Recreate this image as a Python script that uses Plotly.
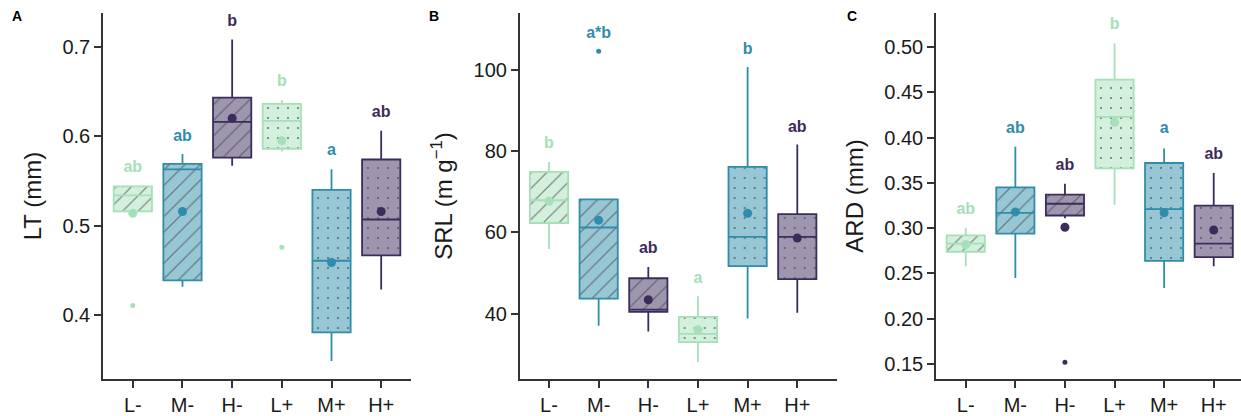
import plotly.graph_objects as go
from plotly.subplots import make_subplots

cats = ["L-", "M-", "H-", "L+", "M+", "H+"]
colors = ["#a5e0b8", "#2f8cab", "#3c2c5c", "#a5e0b8", "#2f8cab", "#3c2c5c"]
fills = ["#d3f0dc", "#97c6d5", "#9e96ae", "#d3f0dc", "#97c6d5", "#9e96ae"]
patterns = ["/", "/", "/", ".", ".", "."]
pattern_sizes = [11, 11, 11, 10, 10, 10]
pattern_solidity = [0.1, 0.1, 0.1, 0.035, 0.035, 0.035]

# Panel A: LT (mm)
lt_q1 = [0.516, 0.439, 0.576, 0.586, 0.381, 0.467]
lt_median = [0.534, 0.563, 0.616, 0.617, 0.461, 0.507]
lt_q3 = [0.544, 0.569, 0.643, 0.636, 0.540, 0.574]
lt_lower = [0.516, 0.432, 0.567, 0.583, 0.349, 0.429]
lt_upper = [0.544, 0.580, 0.708, 0.640, 0.563, 0.606]
lt_mean = [0.514, 0.516, 0.620, 0.595, 0.459, 0.516]
lt_out_x = ["L-", "L+"]
lt_out_y = [0.411, 0.476]
lt_letters = ["ab", "ab", "b", "b", "a", "ab"]
lt_letter_y = [0.564, 0.599, 0.728, 0.660, 0.583, 0.626]

# Panel B: SRL (m g-1)
srl_q1 = [62.3, 43.7, 40.4, 33.0, 51.7, 48.5]
srl_median = [67.9, 61.2, 41.0, 35.0, 58.9, 58.9]
srl_q3 = [74.9, 68.1, 48.7, 39.2, 76.1, 64.5]
srl_lower = [55.9, 37.0, 35.6, 28.1, 38.8, 40.2]
srl_upper = [77.3, 68.1, 51.5, 44.3, 100.7, 81.6]
srl_mean = [67.7, 63.0, 43.4, 36.0, 64.7, 58.6]
srl_out_x = ["M-"]
srl_out_y = [104.6]
srl_letters = ["b", "a*b", "ab", "a", "b", "ab"]
srl_letter_y = [81.7, 108.9, 55.8, 48.5, 105.0, 85.8]

# Panel C: ARD (mm)
ard_q1 = [0.274, 0.294, 0.314, 0.366, 0.264, 0.268]
ard_median = [0.283, 0.317, 0.327, 0.423, 0.321, 0.283]
ard_q3 = [0.292, 0.345, 0.337, 0.464, 0.372, 0.325]
ard_lower = [0.258, 0.245, 0.311, 0.326, 0.234, 0.258]
ard_upper = [0.300, 0.390, 0.349, 0.504, 0.388, 0.361]
ard_mean = [0.282, 0.318, 0.301, 0.417, 0.317, 0.298]
ard_out_x = ["H-"]
ard_out_y = [0.152]
ard_letters = ["ab", "ab", "ab", "b", "a", "ab"]
ard_letter_y = [0.320, 0.409, 0.369, 0.524, 0.409, 0.381]

panels = [
    dict(q1=lt_q1, med=lt_median, q3=lt_q3, lo=lt_lower, hi=lt_upper, mean=lt_mean,
         ox=lt_out_x, oy=lt_out_y, let=lt_letters, ly=lt_letter_y,
         title="LT (mm)", yrange=[0.329, 0.7375], xrange=[-0.6, 5.6],
         tickvals=[0.4, 0.5, 0.6, 0.7], ticktext=["0.4", "0.5", "0.6", "0.7"]),
    dict(q1=srl_q1, med=srl_median, q3=srl_q3, lo=srl_lower, hi=srl_upper, mean=srl_mean,
         ox=srl_out_x, oy=srl_out_y, let=srl_letters, ly=srl_letter_y,
         title="SRL (m g<sup>\u22121</sup>)", yrange=[23.9, 114.0], xrange=[-0.59, 5.8],
         tickvals=[40, 60, 80, 100], ticktext=["40", "60", "80", "100"]),
    dict(q1=ard_q1, med=ard_median, q3=ard_q3, lo=ard_lower, hi=ard_upper, mean=ard_mean,
         ox=ard_out_x, oy=ard_out_y, let=ard_letters, ly=ard_letter_y,
         title="ARD (mm)", yrange=[0.1335, 0.5376], xrange=[-0.6, 5.55],
         tickvals=[0.15, 0.20, 0.25, 0.30, 0.35, 0.40, 0.45, 0.50],
         ticktext=["0.15", "0.20", "0.25", "0.30", "0.35", "0.40", "0.45", "0.50"]),
]

fig = make_subplots(rows=1, cols=3)
W = 1241
domains = [[103 / W, 411 / W], [519.7 / W, 837 / W], [936 / W, 1.0]]

for i, p in enumerate(panels):
    col = i + 1
    # patterned box fill
    fig.add_trace(go.Bar(
        x=cats, y=[h - l for h, l in zip(p["q3"], p["q1"])], base=p["q1"], width=0.77,
        marker=dict(color=fills, line=dict(width=0),
                    pattern=dict(shape=patterns, bgcolor=fills, fgcolor="#4a4a4a",
                                 fgopacity=0.7, size=pattern_sizes,
                                 solidity=pattern_solidity)),
        showlegend=False, hoverinfo="skip"), row=1, col=col)
    # box outlines / whiskers / medians
    for j, c in enumerate(cats):
        fig.add_trace(go.Box(
            x=[c], q1=[p["q1"][j]], median=[p["med"][j]], q3=[p["q3"][j]],
            lowerfence=[p["lo"][j]], upperfence=[p["hi"][j]], width=0.77,
            whiskerwidth=0,
            fillcolor="rgba(0,0,0,0)", line=dict(color=colors[j], width=1.8),
            boxpoints=False, showlegend=False, hoverinfo="skip"), row=1, col=col)
    # means
    fig.add_trace(go.Scatter(
        x=cats, y=p["mean"], mode="markers",
        marker=dict(color=colors, size=9, line=dict(width=0)),
        showlegend=False, hoverinfo="skip"), row=1, col=col)
    # outliers
    out_colors = [colors[cats.index(x)] for x in p["ox"]]
    fig.add_trace(go.Scatter(
        x=p["ox"], y=p["oy"], mode="markers",
        marker=dict(color=out_colors, size=5, line=dict(width=0)),
        showlegend=False, hoverinfo="skip"), row=1, col=col)
    # significance letters
    fig.add_trace(go.Scatter(
        x=cats, y=p["ly"], mode="text", text=p["let"],
        textfont=dict(family="Liberation Sans, Arial", size=16, color=colors, weight="bold"),
        showlegend=False, hoverinfo="skip"), row=1, col=col)

    xa = "xaxis" if i == 0 else f"xaxis{i + 1}"
    ya = "yaxis" if i == 0 else f"yaxis{i + 1}"
    fig.layout[xa].update(
        domain=domains[i], type="category", range=p["xrange"],
        showline=True, linecolor="#333333", linewidth=1.5, mirror=False,
        ticks="outside", ticklen=7, tickwidth=1.5, tickcolor="#333333",
        showgrid=False, zeroline=False,
        tickfont=dict(family="Liberation Sans, Arial", size=20, color="#1a1a1a"))
    fig.layout[ya].update(
        range=p["yrange"], showline=True, linecolor="#333333", linewidth=1.5,
        ticks="outside", ticklen=7, tickwidth=1.5, tickcolor="#333333",
        showgrid=False, zeroline=False, tickvals=p["tickvals"], ticktext=p["ticktext"],
        tickfont=dict(family="Liberation Sans, Arial", size=20, color="#1a1a1a"),
        title=dict(text=p["title"], standoff=14,
                   font=dict(family="Liberation Sans, Arial", size=24, color="#1a1a1a")))

for lbl, xp in [("A", 10), ("B", 427), ("C", 845)]:
    fig.add_annotation(text=f"<b>{lbl}</b>", xref="paper", yref="paper",
                       x=xp / W, y=0.992, xanchor="left", yanchor="middle", showarrow=False,
                       font=dict(family="Liberation Sans, Arial", size=14, color="#000000"))

fig.update_layout(
    width=1241, height=416,
    margin=dict(l=0, r=0, t=13, b=33),
    paper_bgcolor="white", plot_bgcolor="white",
    barmode="overlay", boxmode="overlay",
    font=dict(family="Liberation Sans, Arial"),
)

fig.write_html("out.html")
